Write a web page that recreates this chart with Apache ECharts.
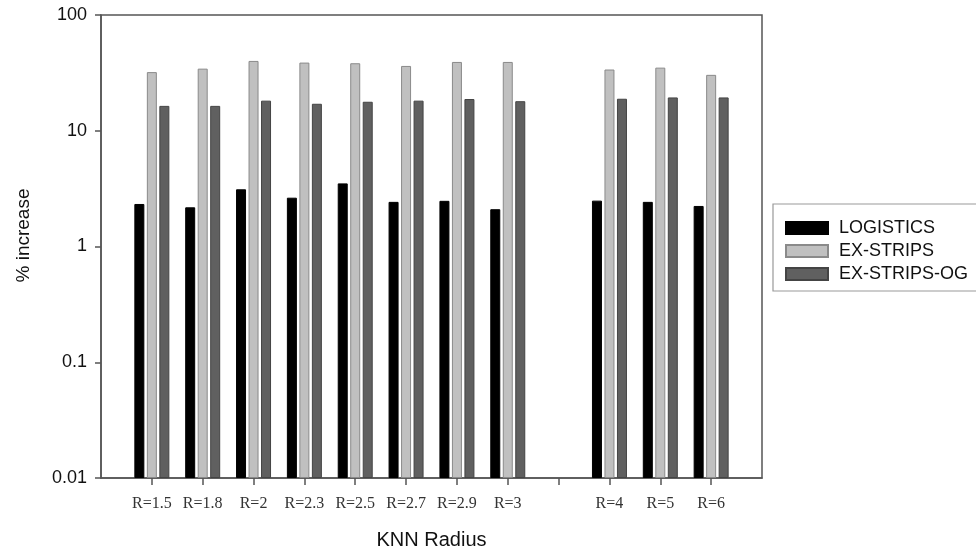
<!DOCTYPE html>
<html>
<head>
<meta charset="utf-8">
<script src="https://cdn.jsdelivr.net/npm/echarts@6/dist/echarts.min.js"></script>
<style>html,body{margin:0;padding:0;background:#fff}#c{width:976px;height:554px}</style>
</head>
<body>
<div id="c"></div>
<script>
// Categories (padding entries start with "_" and are drawn blank)
var categories = ['_start', 'R=1.5', 'R=1.8', 'R=2', 'R=2.3', 'R=2.5', 'R=2.7', 'R=2.9', 'R=3', '_gap', 'R=4', 'R=5', 'R=6', '_end'];
var logistics   = [null, 2.33, 2.18, 3.12, 2.64, 3.51, 2.43, 2.48, 2.10, null, 2.49, 2.43, 2.24, null];
var exStrips    = [null, 32.1, 34.4, 40.1, 38.8, 38.3, 36.3, 39.3, 39.3, null, 33.8, 35.1, 30.4, null];
var exStripsOG  = [null, 16.4, 16.4, 18.2, 17.1, 17.8, 18.2, 18.8, 18.0, null, 18.9, 19.4, 19.4, null];
var seriesNames = ['LOGISTICS', 'EX-STRIPS', 'EX-STRIPS-OG'];

var chart = echarts.init(document.getElementById('c'), null, {renderer: 'canvas'});
var sans = 'Liberation Sans, Arial, sans-serif';
var serif = 'Liberation Serif, Times New Roman, serif';
var axisColor = '#555';

function bar(name, data, color, border) {
  return {
    name: name, type: 'bar', data: data,
    barWidth: 10, barGap: '25%',
    itemStyle: {color: color, borderColor: border, borderWidth: 1},
    emphasis: {disabled: true}
  };
}

chart.setOption({
  animation: false,
  backgroundColor: '#fff',
  grid: {left: 101, top: 15, right: 214, bottom: 76, containLabel: false, outerBoundsMode: 'none',
    show: true, borderColor: axisColor, borderWidth: 1.5, backgroundColor: 'transparent'},
  legend: {
    orient: 'vertical', left: 773, top: 204,
    padding: [15, 14, 8, 12],
    itemWidth: 42, itemHeight: 12, itemGap: 5,
    icon: 'rect',
    borderColor: '#999', borderWidth: 1.2,
    textStyle: {fontFamily: sans, fontSize: 18, color: '#111', padding: [0, 0, 0, 6]},
    data: seriesNames
  },
  xAxis: {
    type: 'category', data: categories, boundaryGap: false,
    name: 'KNN Radius', nameLocation: 'middle', nameGap: 52,
    nameTextStyle: {fontFamily: sans, fontSize: 20, color: '#111'},
    axisLine: {lineStyle: {color: axisColor, width: 1.5}},
    axisTick: {show: true, length: 7, inside: false, lineStyle: {color: axisColor, width: 1.5},
      interval: function (i, v) { return v !== '_start' && v !== '_end'; }},
    axisLabel: {interval: 0, margin: 18, fontFamily: serif, fontSize: 16, color: '#333',
      formatter: function (v) { return v.charAt(0) === '_' ? '' : v; }},
    splitLine: {show: false}
  },
  yAxis: {
    type: 'log', logBase: 10, min: 0.01, max: 100, startValue: 0.01,
    name: '% increase', nameLocation: 'middle', nameGap: 68,
    nameTextStyle: {fontFamily: sans, fontSize: 19, color: '#111', padding: [0, 0, 0, 22]},
    axisLine: {show: true, lineStyle: {color: axisColor, width: 1.5}},
    axisTick: {show: true, length: 6, lineStyle: {color: axisColor, width: 1.5}},
    axisLabel: {margin: 14, fontFamily: sans, fontSize: 18, color: '#111',
      formatter: function (v) { return String(+v.toPrecision(6)); }},
    splitLine: {show: false}
  },
  series: [
    bar(seriesNames[0], logistics, '#000000', '#000000'),
    bar(seriesNames[1], exStrips, '#c0c0c0', '#8a8a8a'),
    bar(seriesNames[2], exStripsOG, '#606060', '#444444')
  ]
});
</script>
</body>
</html>
